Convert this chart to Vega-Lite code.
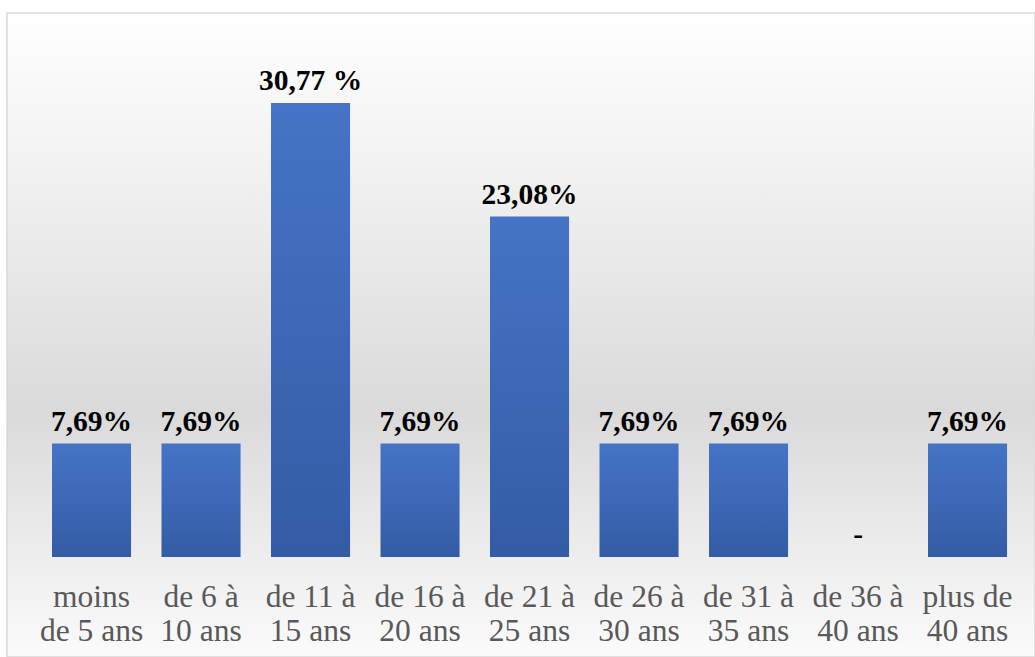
{
  "$schema": "https://vega.github.io/schema/vega-lite/v6.json",
  "width": 1035,
  "height": 657,
  "autosize": {"type": "fit", "contains": "padding"},
  "padding": {"left": 7, "top": 13, "right": 0, "bottom": 0},
  "background": "white",
  "view": {
    "stroke": "#d9d9d9",
    "strokeWidth": 1.5,
    "fill": {
      "gradient": "linear", "x1": 0, "y1": 0, "x2": 0, "y2": 1,
      "stops": [
        {"offset": 0, "color": "#ffffff"},
        {"offset": 0.35, "color": "#ebebeb"},
        {"offset": 0.62, "color": "#dadada"},
        {"offset": 0.85, "color": "#eeeeee"},
        {"offset": 1, "color": "#fbfbfb"}
      ]
    }
  },
  "data": {
    "values": [
      {"age": "moins\nde 5 ans", "pct": 7.69, "label": "7,69%"},
      {"age": "de 6 à\n10 ans", "pct": 7.69, "label": "7,69%"},
      {"age": "de 11 à\n15 ans", "pct": 30.77, "label": "30,77 %"},
      {"age": "de 16 à\n20 ans", "pct": 7.69, "label": "7,69%"},
      {"age": "de 21 à\n25 ans", "pct": 23.08, "label": "23,08%"},
      {"age": "de 26 à\n30 ans", "pct": 7.69, "label": "7,69%"},
      {"age": "de 31 à\n35 ans", "pct": 7.69, "label": "7,69%"},
      {"age": "de 36 à\n40 ans", "pct": 0, "label": "-"},
      {"age": "plus de\n40 ans", "pct": 7.69, "label": "7,69%"}
    ]
  },
  "encoding": {
    "x": {
      "field": "age", "type": "nominal", "sort": null,
      "scale": {"paddingInner": 0.278, "paddingOuter": 0.333, "align": 0.617},
      "axis": {
        "title": null, "orient": "bottom", "offset": -100,
        "domain": false, "ticks": false, "labelAngle": 0,
        "labelExpr": "split(datum.label, '\\n')",
        "labelFont": "Liberation Serif", "labelFontSize": 31.5, "labelColor": "#595959",
        "labelLineHeight": 34, "labelPadding": 24, "labelLimit": 0
      }
    },
    "y": {
      "field": "pct", "type": "quantitative",
      "scale": {"domain": [-6.78, 36.88], "nice": false, "zero": false},
      "axis": null
    }
  },
  "layer": [
    {
      "mark": {
        "type": "bar",
        "fill": {
          "gradient": "linear", "x1": 0, "y1": 0, "x2": 0, "y2": 1,
          "stops": [
            {"offset": 0, "color": "#4574c6"},
            {"offset": 1, "color": "#345ca5"}
          ]
        }
      },
      "encoding": {"y2": {"datum": 0}}
    },
    {
      "mark": {"type": "text", "font": "Liberation Serif", "fontWeight": "bold", "fontSize": 29.5, "color": "black", "baseline": "alphabetic", "dy": -13},
      "encoding": {"text": {"field": "label"}}
    }
  ]
}
